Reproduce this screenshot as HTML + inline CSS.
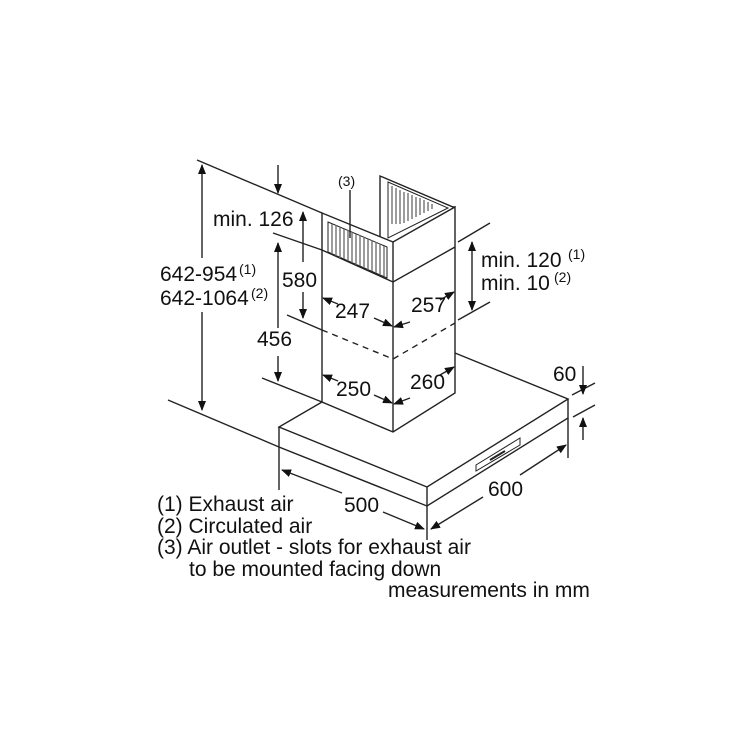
<!DOCTYPE html>
<html><head><meta charset="utf-8"><style>
html,body{margin:0;padding:0;background:#fff}
svg{display:block}
text{font-family:"Liberation Sans",Arial,sans-serif;fill:#111;font-size:21px}
.s{font-size:14px}
</style></head><body>
<svg width="750" height="750" viewBox="0 0 750 750" xmlns="http://www.w3.org/2000/svg">
<defs>
<marker id="a" markerWidth="10" markerHeight="8" refX="9" refY="4" orient="auto" markerUnits="userSpaceOnUse">
<path d="M0,0 L10,4 L0,8 z" fill="#111"/></marker>
</defs>
<g stroke="#222" stroke-width="1.4" fill="none">
<line x1="197" y1="160" x2="322" y2="213"/>
<line x1="273" y1="233" x2="322" y2="250"/>
<line x1="287" y1="315" x2="322" y2="330"/>
<line x1="262" y1="378" x2="322" y2="402"/>
<line x1="168" y1="400" x2="279" y2="447"/>
<line x1="458" y1="242" x2="490" y2="223"/>
<line x1="458" y1="320" x2="490" y2="302"/>
<line x1="572" y1="395" x2="595" y2="383"/>
<line x1="573" y1="417" x2="595" y2="405"/>
<line x1="279" y1="447" x2="279" y2="490"/>
<line x1="427" y1="506" x2="427" y2="540"/>
<line x1="568" y1="418" x2="568" y2="458"/>
<path d="M322,402 L279,427 L427,487 L568,399 L455,353" fill="#fff"/>
<path d="M279,427 L279,447 L427,506 L568,418 L568,399"/>
<line x1="427" y1="487" x2="427" y2="506"/>
<path d="M476,471 L476,465 L520,438 L520,445 Z" stroke-width="1"/>
<line x1="490" y1="460" x2="505" y2="451" stroke-width="2"/>
<path d="M380,238 L380,176 L453,207 L455,207" fill="#fff"/>
<path d="M322,402 L322,213 L393,242 L455,207 L455,393 L393,432 Z" fill="#fff"/>
<line x1="393" y1="242" x2="393" y2="432"/>
<polyline points="322,250 393,282 455,247"/>
<polyline points="322,330 393,359 455,323" stroke-dasharray="6,5"/>
<path d="M328,222 L387,247 L387,278 L328,252 Z" stroke-width="1"/>
<path d="M388,182 L448,208 L388,238 Z" stroke-width="1"/>
<g stroke="#666" stroke-width="1.3">
<line x1="332" y1="224" x2="332" y2="254"/><line x1="336" y1="225" x2="336" y2="256"/><line x1="340" y1="227" x2="340" y2="258"/><line x1="344" y1="229" x2="344" y2="259"/><line x1="348" y1="230" x2="348" y2="261"/><line x1="352" y1="232" x2="352" y2="263"/><line x1="356" y1="234" x2="356" y2="265"/><line x1="360" y1="235" x2="360" y2="266"/><line x1="364" y1="237" x2="364" y2="268"/><line x1="368" y1="239" x2="368" y2="270"/><line x1="372" y1="240" x2="372" y2="271"/><line x1="376" y1="242" x2="376" y2="273"/><line x1="380" y1="244" x2="380" y2="275"/><line x1="384" y1="246" x2="384" y2="276"/>
<line x1="392" y1="186" x2="392" y2="224"/><line x1="396" y1="188" x2="396" y2="224"/><line x1="400" y1="190" x2="400" y2="224"/><line x1="404" y1="192" x2="404" y2="223"/><line x1="408" y1="193" x2="408" y2="221"/><line x1="412" y1="195" x2="412" y2="219"/><line x1="416" y1="197" x2="416" y2="217"/><line x1="420" y1="198" x2="420" y2="215"/><line x1="424" y1="200" x2="424" y2="213"/><line x1="428" y1="202" x2="428" y2="211"/><line x1="432" y1="204" x2="432" y2="209"/>
</g>
<line x1="350" y1="190" x2="350" y2="238"/>
<line x1="202" y1="258" x2="202" y2="165" marker-end="url(#a)"/>
<line x1="202" y1="312" x2="202" y2="410" marker-end="url(#a)"/>
<line x1="278" y1="165" x2="278" y2="193" marker-end="url(#a)"/>
<line x1="303" y1="262" x2="303" y2="212" marker-end="url(#a)"/>
<line x1="303" y1="292" x2="303" y2="318" marker-end="url(#a)"/>
<line x1="278" y1="328" x2="278" y2="243" marker-end="url(#a)"/>
<line x1="278" y1="356" x2="278" y2="381" marker-end="url(#a)"/>
<line x1="472" y1="275" x2="472" y2="242" marker-end="url(#a)"/>
<line x1="472" y1="275" x2="472" y2="310" marker-end="url(#a)"/>
<line x1="338" y1="304" x2="323" y2="298" marker-end="url(#a)"/>
<line x1="374" y1="318" x2="392" y2="326" marker-end="url(#a)"/>
<line x1="410" y1="322" x2="394" y2="327" marker-end="url(#a)"/>
<line x1="440" y1="300" x2="454" y2="292" marker-end="url(#a)"/>
<line x1="338" y1="381" x2="323" y2="375" marker-end="url(#a)"/>
<line x1="374" y1="395" x2="392" y2="403" marker-end="url(#a)"/>
<line x1="410" y1="398" x2="394" y2="404" marker-end="url(#a)"/>
<line x1="440" y1="375" x2="454" y2="367" marker-end="url(#a)"/>
<line x1="583" y1="366" x2="583" y2="394" marker-end="url(#a)"/>
<line x1="583" y1="440" x2="583" y2="418" marker-end="url(#a)"/>
<line x1="342" y1="493" x2="282" y2="470" marker-end="url(#a)"/>
<line x1="383" y1="512" x2="424" y2="529" marker-end="url(#a)"/>
<line x1="483" y1="497" x2="431" y2="529" marker-end="url(#a)"/>
<line x1="520" y1="475" x2="566" y2="445" marker-end="url(#a)"/>
</g>
<text x="213" y="226">min. 126</text>
<text x="160" y="281">642-954</text><text class="s" x="239" y="274">(1)</text>
<text x="160" y="305">642-1064</text><text class="s" x="251" y="298">(2)</text>
<text x="282" y="287">580</text>
<text x="257" y="346">456</text>
<text x="335" y="318">247</text>
<text x="411" y="312">257</text>
<text x="336" y="396">250</text>
<text x="410" y="389">260</text>
<text x="481" y="267">min. 120</text><text class="s" x="568" y="259">(1)</text>
<text x="481" y="290">min. 10</text><text class="s" x="554" y="282">(2)</text>
<text x="553" y="381">60</text>
<text x="344" y="512">500</text>
<text x="488" y="496">600</text>
<text x="157" y="511">(1) Exhaust air</text>
<text x="157" y="533">(2) Circulated air</text>
<text x="157" y="554">(3) Air outlet - slots for exhaust air</text>
<text x="189" y="576">to be mounted facing down</text>
<text x="388" y="597">measurements in mm</text>
<text class="s" x="338" y="186">(3)</text>
</svg>
</body></html>
